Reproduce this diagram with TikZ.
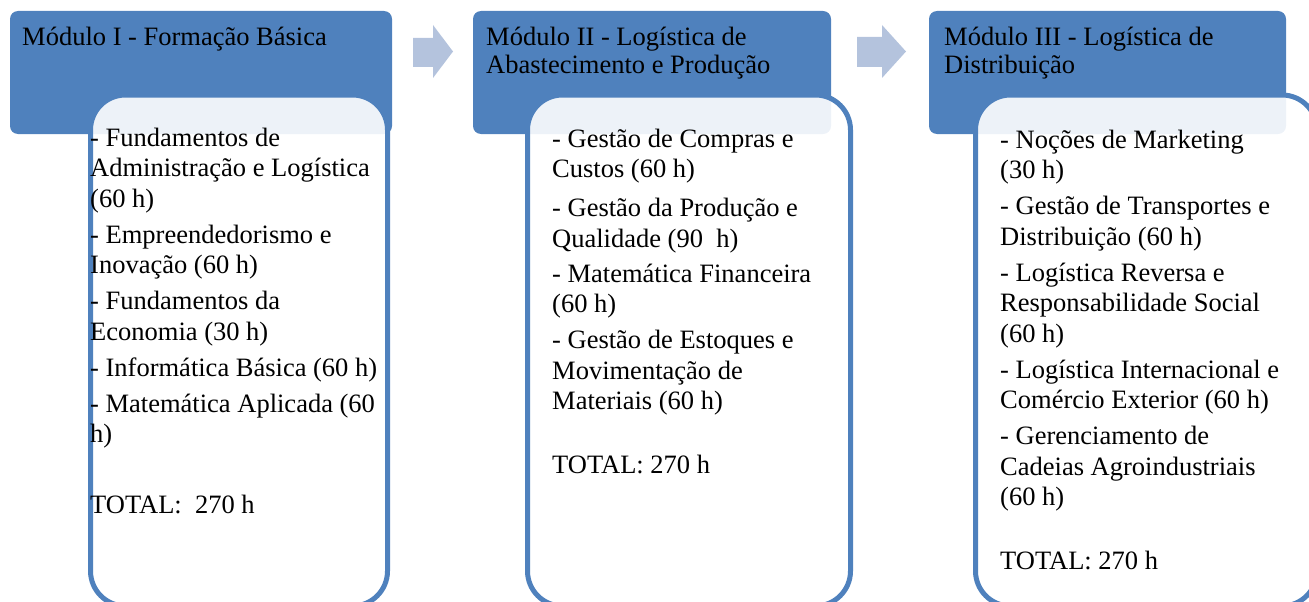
\documentclass[tikz,border=0pt]{standalone}
\usepackage{fontspec}
\setmainfont{Liberation Serif}
\usepackage{tikz}
\usetikzlibrary{positioning}

\definecolor{modblue}{HTML}{4F81BD}
\definecolor{chevblue}{HTML}{B4C3DD}

\begin{document}
\begin{tikzpicture}[x=1pt,y=-1pt]
\tikzstyle{header}=[fill=modblue,rounded corners=8pt,minimum height=123pt,inner sep=0pt,outer sep=0pt,anchor=north west];
\tikzstyle{listbox}=[draw=modblue,line width=5pt,fill=white,fill opacity=0.9,rounded corners=35pt,minimum height=511pt,inner sep=0pt,outer sep=0pt,anchor=north west];
\tikzstyle{title}=[inner sep=0pt,anchor=north west,align=left,font=\fontsize{26.5}{27.5}\selectfont];
\tikzstyle{items}=[inner sep=0pt,anchor=north west,align=left,font=\fontsize{26.5}{30.5}\selectfont];
\tikzstyle{chevron}=[fill=chevblue];
\useasboundingbox (0,0) rectangle (1309,602);
\clip (0,0) rectangle (1309,602);

% headers
\node[header,minimum width=382pt] (hdr1) at (10,11) {};
\node[header,minimum width=358pt] (hdr2) at (473,11) {};
\node[header,minimum width=357pt] (hdr3) at (929,11) {};

\node[title] (ttl1) at (22,24.5) {\rule{0pt}{21pt}Módulo I - Formação Básica};
\node[title] (ttl2) at (486,24.5) {\rule{0pt}{21pt}Módulo II - Logística de\\Abastecimento e Produção};
\node[title] (ttl3) at (944,24.5) {\rule{0pt}{21pt}Módulo III - Logística de\\Distribuição};

% arrows between headers
\fill[chevron] (413,38) -- (433,38) -- (433,25) -- (453,51.5) -- (433,78) -- (433,67) -- (413,67) -- cycle;
\fill[chevron] (857,37) -- (882,37) -- (882,25) -- (906,51.5) -- (882,78) -- (882,67) -- (857,67) -- cycle;

% course lists
\node[listbox,minimum width=297pt] (box1) at (90.5,95) {};
\node[listbox,minimum width=323pt] (box2) at (527.5,95) {};
\node[listbox,minimum width=341.5pt] (box3) at (975.5,95) {};

\node[items] (lst1) at (90,125) {\rule{0pt}{21pt}- Fundamentos de\\
	Administração e Logística\\
	(60 h)\\[5.5pt]
	- Empreendedorismo e\\
	Inovação (60 h)\\[5.5pt]
	- Fundamentos da\\
	Economia (30 h)\\[5.5pt]
	- Informática Básica (60 h)\\[5.5pt]
	- Matemática Aplicada (60\\
	h)\\[40pt]
	TOTAL:\ \ 270 h};
\node[items] (lst2) at (552,126) {\rule{0pt}{21pt}- Gestão de Compras e\\
	Custos (60 h)\\[8.5pt]
	- Gestão da Produção e\\
	Qualidade (90\ \ h)\\[4.5pt]
	- Matemática Financeira\\
	(60 h)\\[5.5pt]
	- Gestão de Estoques e\\
	Movimentação de\\
	Materiais (60 h)\\[33pt]
	TOTAL: 270 h};
\node[items] (lst3) at (1000,127) {\rule{0pt}{21pt}- Noções de Marketing\\
	(30 h)\\[5.5pt]
	- Gestão de Transportes e\\
	Distribuição (60 h)\\[5.5pt]
	- Logística Reversa e\\
	Responsabilidade Social\\
	(60 h)\\[5.5pt]
	- Logística Internacional e\\
	Comércio Exterior (60 h)\\[5.5pt]
	- Gerenciamento de\\
	Cadeias Agroindustriais\\
	(60 h)\\[33.5pt]
	TOTAL: 270 h};
\end{tikzpicture}
\end{document}
